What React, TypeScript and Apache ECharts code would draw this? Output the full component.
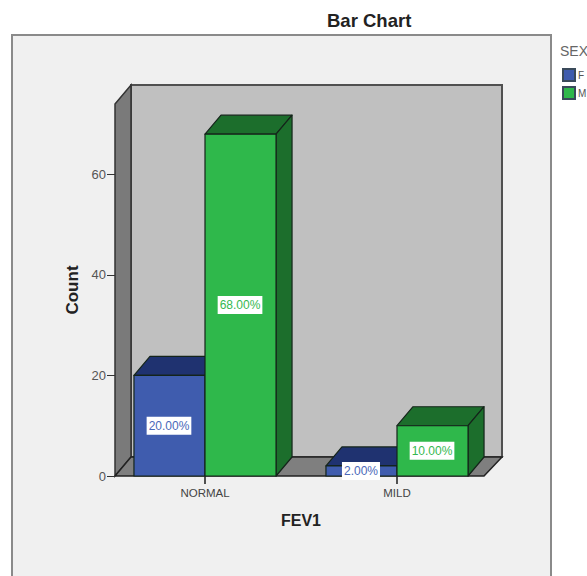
import React, { useEffect, useRef } from "react";
import * as echarts from "echarts";

const categories = ["NORMAL", "MILD"];
const femaleCounts = [20, 2];
const maleCounts = [68, 10];
const totalCount = 100;
const yTicks = [0, 20, 40, 60];

const FONT = '"Liberation Sans", Arial, sans-serif';
const DEPTH_X = 16;
const DEPTH_Y = 19;
const TICK_LENGTH = 8;
const OUTLINE = "#14241a";

type Tone = { front: string; dark: string; label: string };
const femaleTone: Tone = { front: "#3f5cae", dark: "#1f3270", label: "#4a68b8" };
const maleTone: Tone = { front: "#2fb84b", dark: "#1c6e2c", label: "#35b850" };

// Draws one 3-D bar: front face, top and side, with its percentage tag.
// The category tick hangs from the shared edge of each bar pair.
function barRenderer(tone: Tone, side: number) {
  return (_params: any, api: any) => {
    const band = api.size([1, 0])[0];
    const w = band * 0.37;
    const [cx, top] = api.coord([api.value(0), api.value(1)]);
    const [, base] = api.coord([api.value(0), 0]);
    const x0 = side < 0 ? cx - w : cx;
    const x1 = x0 + w;
    const lineStyle = { stroke: OUTLINE, lineWidth: 1.2, lineJoin: "round" };
    const pct = ((api.value(1) / totalCount) * 100).toFixed(2) + "%";
    return {
      type: "group",
      children: [
        {
          type: "rect",
          shape: { x: cx - 0.6, y: base, width: 1.2, height: TICK_LENGTH },
          style: { fill: "#333333" },
        },
        {
          type: "polygon",
          shape: { points: [[x0, top], [x0 + DEPTH_X, top - DEPTH_Y], [x1 + DEPTH_X, top - DEPTH_Y], [x1, top]] },
          style: { fill: tone.dark, ...lineStyle },
        },
        {
          type: "polygon",
          shape: { points: [[x1, top], [x1 + DEPTH_X, top - DEPTH_Y], [x1 + DEPTH_X, base - DEPTH_Y], [x1, base]] },
          style: { fill: tone.dark, ...lineStyle },
        },
        {
          type: "rect",
          shape: { x: x0, y: top, width: w, height: base - top },
          style: { fill: tone.front, ...lineStyle },
        },
        {
          type: "text",
          x: (x0 + x1) / 2 - 0.5,
          y: (top + base) / 2,
          style: {
            text: pct,
            fill: tone.label,
            font: `12px ${FONT}`,
            align: "center",
            verticalAlign: "middle",
            backgroundColor: "#ffffff",
            padding: [3, 2, 3, 2],
          },
        },
      ],
    };
  };
}

// Panel background, walls and floor of the 3-D plot box.
const frame: any[] = [
  {
    type: "rect",
    z: -10,
    shape: { x: 12, y: 35, width: 539, height: 560 },
    style: { fill: "#f0f0f0", stroke: "#8a8a8a", lineWidth: 2 },
  },
  {
    type: "rect",
    z: -9,
    shape: { x: 131, y: 85, width: 371, height: 372 },
    style: { fill: "#c0c0c0", stroke: "#505050", lineWidth: 2 },
  },
  {
    type: "polygon",
    z: -8,
    shape: { points: [[115, 104], [131, 85], [131, 457], [115, 476]] },
    style: { fill: "#7a7a7a", stroke: "#333333", lineWidth: 1.5 },
  },
  {
    type: "polygon",
    z: -8,
    shape: { points: [[115, 476], [131, 457], [502, 457], [484, 476]] },
    style: { fill: "#7f7f7f", stroke: "#222222", lineWidth: 1.5 },
  },
  {
    type: "text",
    x: 560,
    y: 51,
    style: { text: "SEX", fill: "#666666", font: `14px ${FONT}`, verticalAlign: "middle" },
  },
];

export default function App() {
  const ref = useRef<HTMLDivElement>(null);

  useEffect(() => {
    document.body.style.margin = "0";
    const chart = echarts.init(ref.current!, null, { renderer: "svg" });
    chart.setOption({
      animation: false,
      backgroundColor: "#ffffff",
      title: {
        text: "Bar Chart",
        left: 327,
        top: 11,
        padding: 0,
        textStyle: { fontFamily: FONT, fontSize: 18.5, fontWeight: "bold", color: "#222222" },
      },
      legend: {
        orient: "vertical",
        left: 562,
        top: 68,
        itemWidth: 12,
        itemHeight: 12,
        itemGap: 4,
        icon: "rect",
        selectedMode: false,
        padding: 0,
        textStyle: { fontFamily: FONT, fontSize: 10, color: "#555555", padding: [0, 0, 0, -2] },
        data: ["F", "M"],
      },
      grid: { left: 109, width: 384, top: 104, height: 372 },
      xAxis: {
        type: "category",
        data: categories,
        name: "FEV1",
        nameLocation: "middle",
        nameGap: 36,
        nameTextStyle: { fontFamily: FONT, fontSize: 16, fontWeight: "bold", color: "#222222" },
        axisLine: { show: false },
        axisTick: { show: false },
        axisLabel: { fontFamily: FONT, fontSize: 11.5, color: "#444444", margin: 11, interval: 0 },
        splitLine: { show: false },
      },
      yAxis: {
        type: "value",
        min: 0,
        max: 74,
        offset: -6,
        name: "Count",
        nameLocation: "middle",
        nameGap: 34,
        nameTextStyle: { fontFamily: FONT, fontSize: 17, fontWeight: "bold", color: "#222222" },
        axisLine: { show: false },
        axisTick: { show: true, length: 8, customValues: yTicks, lineStyle: { color: "#333333" } },
        axisLabel: { fontFamily: FONT, fontSize: 13, color: "#555555", margin: 9, customValues: yTicks },
        splitLine: { show: false },
      },
      series: [
        {
          name: "F",
          type: "custom",
          renderItem: barRenderer(femaleTone, -1),
          encode: { x: 0, y: 1 },
          itemStyle: { color: femaleTone.front, borderColor: "#3a4a5a", borderWidth: 1 },
          data: femaleCounts.map((v, i) => [i, v]),
          z: 2,
        },
        {
          name: "M",
          type: "custom",
          renderItem: barRenderer(maleTone, 1),
          encode: { x: 0, y: 1 },
          itemStyle: { color: maleTone.front, borderColor: "#3a4a5a", borderWidth: 1 },
          data: maleCounts.map((v, i) => [i, v]),
          z: 3,
        },
      ],
      graphic: { elements: frame },
    });
    return () => chart.dispose();
  }, []);

  return <div ref={ref} style={{ width: 587, height: 576, overflow: "hidden" }} />;
}
